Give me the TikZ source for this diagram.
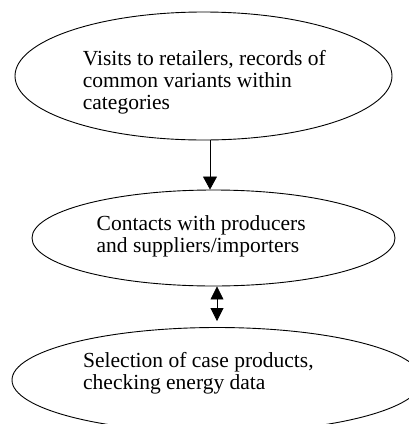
\documentclass[tikz,border=0pt]{standalone}
\usepackage{fontspec}
\setmainfont{Liberation Serif}
\usepackage{tikz}
\usetikzlibrary{positioning,arrows.meta,shapes.geometric}

\begin{document}
\begin{tikzpicture}[
  x=1pt, y=-1pt,
  oval/.style={draw, ellipse, line width=0.9pt, inner sep=0pt},
  txt/.style={align=left, inner sep=0pt, anchor=north west, font=\fontsize{21.5}{22}\selectfont},
  arr/.style={-{Triangle[length=13pt, width=14pt]}, line width=0.8pt},
  dbl/.style={{Triangle[length=13pt, width=13pt]}-{Triangle[length=13pt, width=13pt]}, line width=0.8pt}
]
\useasboundingbox (0,0) rectangle (409,424);
\clip (0,0) rectangle (409,424);
\node[oval, minimum width=377pt, minimum height=128pt] (visits) at (203.5,76) {};
\node[oval, minimum width=363pt, minimum height=96pt] (contacts) at (213.5,238) {};
\node[oval, minimum width=410pt, minimum height=105pt] (selection) at (217,380) {};
\node[txt] (visitstxt) at (82.7,50.3) {Visits to retailers, records of\\common variants within\\categories};
\node[txt] (contactstxt) at (96.5,215.3) {Contacts with producers\\and suppliers/importers};
\node[txt] (selectiontxt) at (83,352.3) {Selection of case products,\\checking energy data};
\draw[arr] ([xshift=6.5pt]visits.south) -- ([xshift=-3.5pt]contacts.north);
\draw[dbl] ([xshift=3.5pt]contacts.south) -- ([yshift=6pt]selection.north);
\end{tikzpicture}
\end{document}
